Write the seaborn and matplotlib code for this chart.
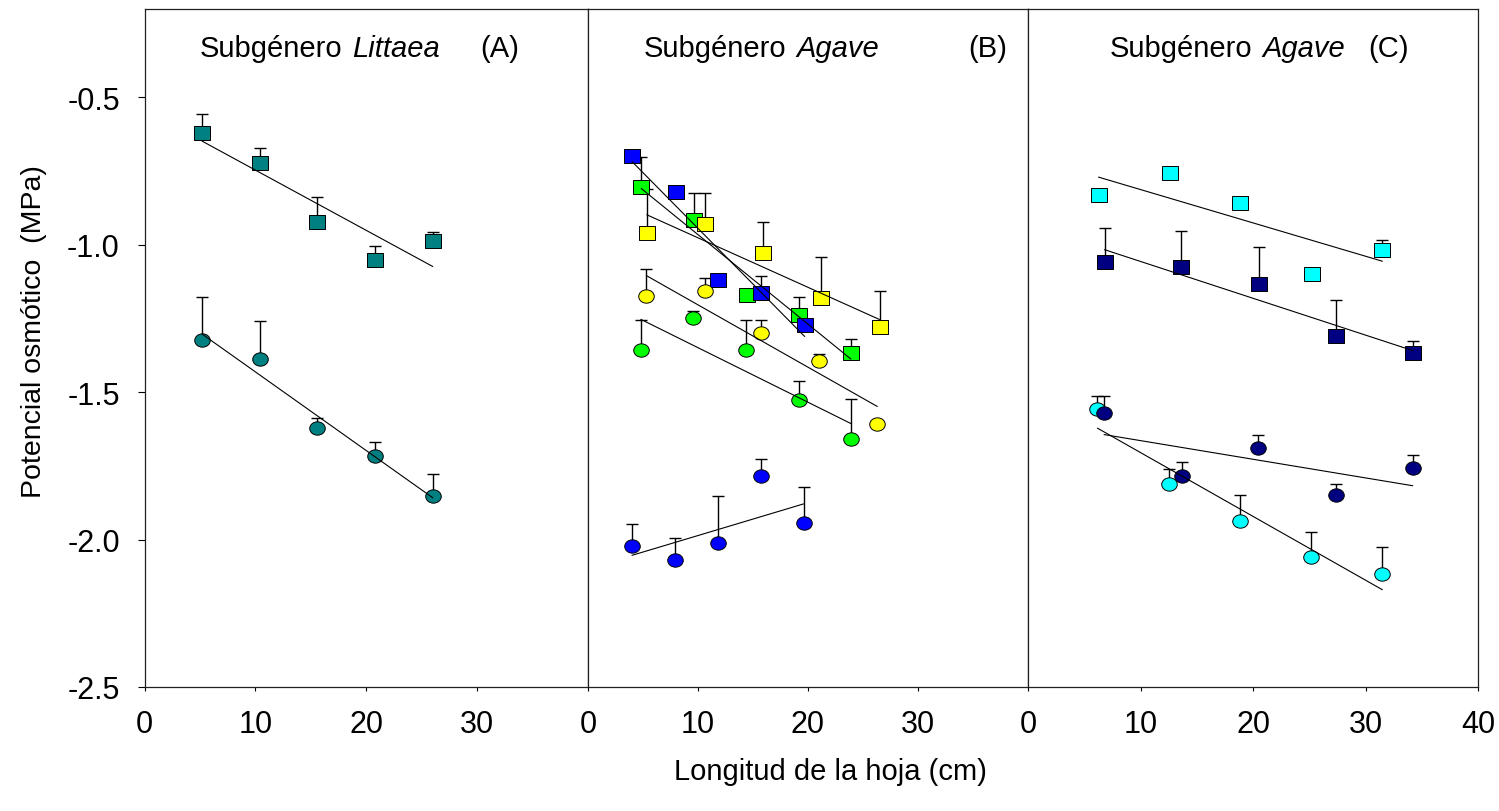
import numpy as np
import matplotlib
matplotlib.use("Agg")
import matplotlib.pyplot as plt
from matplotlib.markers import MarkerStyle
from matplotlib.transforms import Affine2D
import seaborn as sns

# ---------------- data ----------------
# Panel A - Subgenero Littaea
a_sq_x = [5.2, 10.4, 15.6, 20.8, 26.0]
a_sq_y = [-0.621, -0.723, -0.922, -1.052, -0.988]
a_sq_err = [0.063, 0.050, 0.085, 0.047, 0.032]
a_ci_x = [5.2, 10.4, 15.6, 20.8, 26.0]
a_ci_y = [-1.323, -1.388, -1.623, -1.716, -1.853]
a_ci_err = [0.147, 0.128, 0.036, 0.046, 0.074]

# Panel B - Subgenero Agave
b_green_sq_x = [4.84, 9.64, 14.43, 19.14, 23.9]
b_green_sq_y = [-0.805, -0.915, -1.171, -1.238, -1.366]
b_green_sq_err = [0.104, 0.091, 0.0, 0.062, 0.045]
b_blue_sq_x = [4.0, 7.97, 11.86, 15.77, 19.7]
b_blue_sq_y = [-0.700, -0.822, -1.119, -1.162, -1.271]
b_blue_sq_err = [0.0, 0.0, 0.0, 0.055, 0.0]
b_yel_sq_x = [5.35, 10.66, 15.9, 21.17, 26.5]
b_yel_sq_y = [-0.960, -0.931, -1.028, -1.182, -1.278]
b_yel_sq_err = [0.149, 0.107, 0.104, 0.141, 0.121]
b_yel_ci_x = [5.3, 10.6, 15.74, 21.04, 26.3]
b_yel_ci_y = [-1.173, -1.156, -1.300, -1.395, -1.608]
b_yel_ci_err = [0.092, 0.043, 0.044, 0.025, 0.0]
b_green_ci_x = [4.8, 9.55, 14.35, 19.14, 23.9]
b_green_ci_y = [-1.356, -1.250, -1.356, -1.526, -1.660]
b_green_ci_err = [0.102, 0.024, 0.102, 0.063, 0.136]
b_blue_ci_x = [4.0, 7.88, 11.8, 15.7, 19.6]
b_blue_ci_y = [-2.021, -2.068, -2.013, -1.784, -1.945]
b_blue_ci_err = [0.073, 0.075, 0.160, 0.059, 0.124]

# Panel C - Subgenero Agave
c_cyan_sq_x = [6.27, 12.58, 18.88, 25.2, 31.5]
c_cyan_sq_y = [-0.832, -0.757, -0.860, -1.100, -1.017]
c_cyan_sq_err = [0.0, 0.0, 0.0, 0.0, 0.032]
c_navy_sq_x = [6.8, 13.64, 20.5, 27.38, 34.2]
c_navy_sq_y = [-1.057, -1.074, -1.132, -1.308, -1.368]
c_navy_sq_err = [0.114, 0.119, 0.123, 0.121, 0.041]
c_cyan_ci_x = [6.17, 12.55, 18.86, 25.18, 31.5]
c_cyan_ci_y = [-1.557, -1.812, -1.936, -2.059, -2.118]
c_cyan_ci_err = [0.045, 0.051, 0.087, 0.086, 0.094]
c_navy_ci_x = [6.76, 13.65, 20.46, 27.35, 34.2]
c_navy_ci_y = [-1.572, -1.785, -1.691, -1.848, -1.757]
c_navy_ci_err = [0.060, 0.048, 0.046, 0.036, 0.045]

y_ticks = [-2.5, -2.0, -1.5, -1.0, -0.5]
x_ticks_ab = [0, 10, 20, 30]
x_ticks_c = [0, 10, 20, 30, 40]

TEAL, BLUE, GREEN, YELLOW = "#008080", "#0000ff", "#00ff00", "#ffff00"
CYAN, NAVY = "#00ffff", "#000080"

# ---------------- style ----------------
sns.set_style("white")
plt.rcParams['font.family'] = ['Liberation Sans', 'DejaVu Sans']
plt.rcParams['axes.unicode_minus'] = False
plt.rcParams['text.color'] = 'black'
plt.rcParams['axes.labelcolor'] = 'black'
plt.rcParams['xtick.color'] = 'black'
plt.rcParams['ytick.color'] = 'black'

SQ = MarkerStyle('s', transform=Affine2D().scale(1.0, 0.9))
CI = MarkerStyle('o', transform=Affine2D().scale(1.0, 0.86))

W, H = 1499, 812
fig = plt.figure(figsize=(W / 100, H / 100), dpi=100)

bottom = (H - 688) / H
height = (688 - 9.9) / H
axA = fig.add_axes([144.5 / W, bottom, (588 - 144.5) / W, height])
axB = fig.add_axes([588 / W, bottom, (1028 - 588) / W, height])
axC = fig.add_axes([1028 / W, bottom, (1478 - 1028) / W, height])


def draw_series(ax, x, y, err, color, marker):
    x = np.asarray(x)
    y = np.asarray(y)
    err = np.asarray(err)
    keep = err > 0
    if keep.any():
        ax.errorbar(x[keep], y[keep], yerr=[np.zeros(keep.sum()), err[keep]],
                    fmt='none', ecolor='black', elinewidth=1.0,
                    capsize=4.6, capthick=1.0, zorder=2)
    sns.scatterplot(x=x, y=y, ax=ax, marker=marker, s=125, color=color,
                    edgecolor='black', linewidth=0.7, zorder=3, legend=False)
    sns.regplot(x=x, y=y, ax=ax, scatter=False, ci=None, truncate=True,
                line_kws=dict(color='black', lw=0.8, zorder=4))


# panel A
draw_series(axA, a_sq_x, a_sq_y, a_sq_err, TEAL, SQ)
draw_series(axA, a_ci_x, a_ci_y, a_ci_err, TEAL, CI)

# panel B
draw_series(axB, b_green_sq_x, b_green_sq_y, b_green_sq_err, GREEN, SQ)
draw_series(axB, b_yel_sq_x, b_yel_sq_y, b_yel_sq_err, YELLOW, SQ)
draw_series(axB, b_blue_sq_x, b_blue_sq_y, b_blue_sq_err, BLUE, SQ)
draw_series(axB, b_yel_ci_x, b_yel_ci_y, b_yel_ci_err, YELLOW, CI)
draw_series(axB, b_green_ci_x, b_green_ci_y, b_green_ci_err, GREEN, CI)
draw_series(axB, b_blue_ci_x, b_blue_ci_y, b_blue_ci_err, BLUE, CI)

# panel C
draw_series(axC, c_cyan_sq_x, c_cyan_sq_y, c_cyan_sq_err, CYAN, SQ)
draw_series(axC, c_navy_sq_x, c_navy_sq_y, c_navy_sq_err, NAVY, SQ)
draw_series(axC, c_cyan_ci_x, c_cyan_ci_y, c_cyan_ci_err, CYAN, CI)
draw_series(axC, c_navy_ci_x, c_navy_ci_y, c_navy_ci_err, NAVY, CI)

for ax in (axA, axB, axC):
    ax.set_xlim(0, 40)
    ax.set_ylim(-2.5, -0.2)
    ax.set_xlabel("")
    ax.set_ylabel("")
    for sp in ax.spines.values():
        sp.set_visible(True)
        sp.set_color('#202020')
        sp.set_linewidth(0.9)
    ax.tick_params(axis='x', direction='out', length=3.2, width=0.8,
                   pad=13, labelsize=22, bottom=True)

axA.set_xticks(x_ticks_ab)
axB.set_xticks(x_ticks_ab)
axC.set_xticks(x_ticks_c)
for ax in (axA, axB, axC):
    ax.set_xticklabels([str(t) for t in ax.get_xticks().astype(int)])

axA.set_yticks(y_ticks)
axA.set_yticklabels([f"{v:.1f}" for v in y_ticks])
axA.tick_params(axis='y', direction='out', length=4.8, width=0.8, pad=13,
                labelsize=22, left=True)
for ax in (axB, axC):
    ax.tick_params(axis='y', left=False, labelleft=False)
    ax.set_yticks(y_ticks)

# panel titles
def px(x, y):
    return x / W, 1 - y / H

base = 57
tfs = 21
fig.text(*px(200, base), "Subgénero", fontsize=tfs, va='baseline')
fig.text(*px(352, base), "Littaea", fontsize=tfs, style='italic', va='baseline')
fig.text(*px(480, base), "(A)", fontsize=tfs, va='baseline')
fig.text(*px(644, base), "Subgénero", fontsize=tfs, va='baseline')
fig.text(*px(796, base), "Agave", fontsize=tfs, style='italic', va='baseline')
fig.text(*px(968, base), "(B)", fontsize=tfs, va='baseline')
fig.text(*px(1110, base), "Subgénero", fontsize=tfs, va='baseline')
fig.text(*px(1262, base), "Agave", fontsize=tfs, style='italic', va='baseline')
fig.text(*px(1368, base), "(C)", fontsize=tfs, va='baseline')

# axis labels
fig.text(*px(34, 332), "Potencial osmótico  (MPa)", fontsize=20.5,
         rotation=90, ha='center', va='center')
fig.text(*px(830, 772), "Longitud de la hoja (cm)", fontsize=21,
         ha='center', va='center')

fig.savefig("out.png", dpi=100)
